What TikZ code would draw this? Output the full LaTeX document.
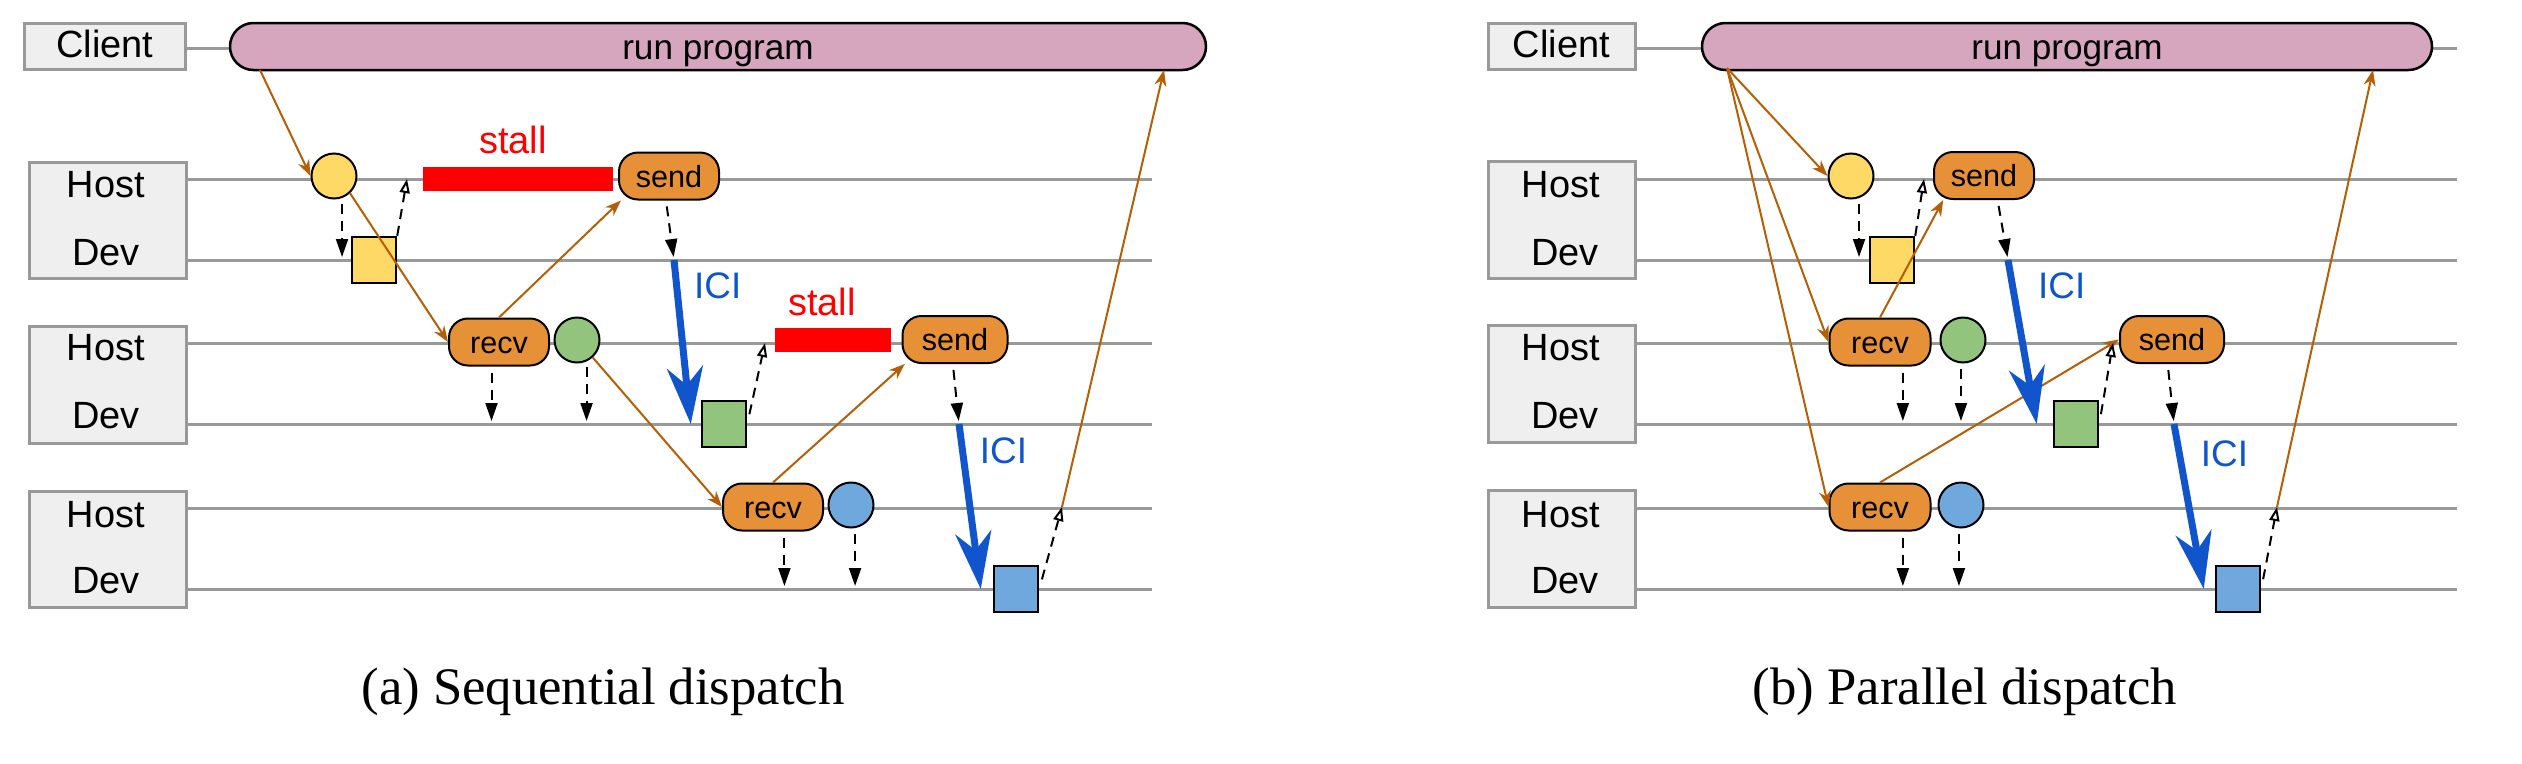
\documentclass[tikz,border=0pt]{standalone}
\usepackage{fontspec}
\setmainfont{Liberation Serif}
\setsansfont{Liberation Sans}
\usetikzlibrary{arrows.meta}
\definecolor{lanegray}{HTML}{999999}
\definecolor{boxgray}{HTML}{EFEFEF}
\definecolor{pillpink}{HTML}{D5A6BD}
\definecolor{oporange}{HTML}{E69138}
\definecolor{opyellow}{HTML}{FFD966}
\definecolor{opgreen}{HTML}{93C47D}
\definecolor{opblue}{HTML}{6FA8DC}
\definecolor{floworange}{HTML}{B45F06}
\definecolor{iciblue}{HTML}{1155CC}
\definecolor{stallred}{HTML}{FF0000}
\tikzset{lane/.style={draw=lanegray,line width=0.3mm}}
\tikzset{lblbox/.style={draw=lanegray,fill=boxgray,line width=0.3mm,inner sep=0,
  font=\sffamily\fontsize{10.8}{13}\selectfont,text height=2.2mm,text depth=0mm}}
\tikzset{lbltxt/.style={font=\sffamily\fontsize{10.8}{13}\selectfont,inner sep=0,anchor=base}}
\tikzset{prog/.style={draw=black,fill=pillpink,line width=0.25mm,rounded corners=2.35mm,
  minimum height=4.7mm,inner sep=0,font=\sffamily\fontsize{10}{12}\selectfont,
  text height=2.5mm,text depth=0mm}}
\tikzset{op/.style={draw=black,fill=oporange,line width=0.2mm,rounded corners=1.9mm,
  minimum width=10mm,minimum height=4.7mm,inner sep=0,
  font=\sffamily\fontsize{8.7}{10}\selectfont,text height=2.2mm,text depth=0mm}}
\tikzset{hostop/.style={circle,draw=black,line width=0.2mm,minimum size=4.5mm,inner sep=0}}
\tikzset{devop/.style={rectangle,draw=black,line width=0.25mm,minimum width=4.4mm,
  minimum height=4.6mm,inner sep=0}}
\tikzset{stallbar/.style={fill=stallred,minimum height=2.4mm,inner sep=0}}
\tikzset{stalltxt/.style={text=stallred,font=\sffamily\fontsize{10.8}{13}\selectfont,
  inner sep=0,anchor=base}}
\tikzset{icitxt/.style={text=iciblue,font=\sffamily\fontsize{10.5}{13}\selectfont,inner sep=0}}
\tikzset{flow/.style={color=floworange,line width=0.2mm,-{Stealth[length=1.6mm,width=1.2mm]}}}
\tikzset{call/.style={line width=0.2mm,dash pattern=on 1mm off 0.7mm,
  shorten <=0.6mm,shorten >=0.3mm,-{Triangle[length=1.8mm,width=1.2mm]}}}
\tikzset{done/.style={line width=0.2mm,dash pattern=on 1mm off 0.7mm,
  shorten <=1mm,-{Triangle[open,length=1.4mm,width=1mm]}}}
\tikzset{ici/.style={color=iciblue,line width=0.7mm,
  -{Stealth[length=5.7mm,width=3.6mm,inset=1.8mm]}}}

\begin{document}
\begin{tikzpicture}[x=0.1mm,y=-0.1mm]
\useasboundingbox (0,0) rectangle (2522,764);
% \draw[help lines,step=100] (0,0) grid (2522,764);
\draw[lane] (186,48) -- (700,48);
\draw[lane] (1635,48) -- (2457,48);
\foreach \y in {179,260,343,424,508,589} {
  \draw[lane] (186,\y) -- (1152,\y);
  \draw[lane] (1635,\y) -- (2457,\y);
}
%
% (a) sequential
\node (cA) [lblbox,minimum width=16.15mm,minimum height=4.6mm] at (105,46) {Client};
\node (hA1) [lblbox,minimum width=15.7mm,minimum height=11.6mm] at (107.5,220) {};
\node (hA1h) [lbltxt] at (106,197) {Host};
\node (hA1d) [lbltxt] at (106,265) {Dev};
\node (hA2) [lblbox,minimum width=15.7mm,minimum height=11.7mm] at (107.5,384.5) {};
\node (hA2h) [lbltxt] at (106,360) {Host};
\node (hA2d) [lbltxt] at (106,428) {Dev};
\node (hA3) [lblbox,minimum width=15.7mm,minimum height=11.6mm] at (107.5,549) {};
\node (hA3h) [lbltxt] at (106,527) {Host};
\node (hA3d) [lbltxt] at (106,593) {Dev};
\node (pA) [prog,minimum width=97.6mm] at (718,46.5) {run program};
%
\node (yA) [hostop,fill=opyellow] at (334,176) {};
\node (ysqA) [devop,fill=opyellow] at (374,260) {};
\node (sA1) [stallbar,minimum width=19mm] at (518,178.5) {};
\node (sA1t) [stalltxt] at (513,153) {stall};
\node (sendA1) [op] at (669,176) {send};
\node (recvA2) [op] at (499,342) {recv};
\node (gA) [hostop,fill=opgreen] at (577,340) {};
\node (gsqA) [devop,fill=opgreen] at (724,424) {};
\node (sA2) [stallbar,minimum width=11.6mm] at (833,340) {};
\node (sA2t) [stalltxt] at (822,315) {stall};
\node (sendA2) [op,minimum width=10.5mm] at (955,339.5) {send};
\node (recvA3) [op] at (773,507) {recv};
\node (bA) [hostop,fill=opblue] at (851,505) {};
\node (bsqA) [devop,fill=opblue] at (1016,589) {};
%
\coordinate (outA) at (260,70);
\coordinate (inA) at (1164,70);
\coordinate (hyA) at (407,179);
\coordinate (hgA) at (765,343);
\coordinate (hbA) at (1062,507);
\coordinate (iA1) at (674,260);
\coordinate (iA2) at (959,424);
%
\path[flow] (outA) edge (yA.west)
  (yA.-47) edge (recvA2.west)
  (recvA2.north) edge (sendA1.-153)
  (gA.-48) edge (recvA3.west)
  (recvA3.north) edge (sendA2.-154)
  (hbA) edge (inA);
\path[call] (yA.-70) edge (yA.-70 |- ysqA)
  (sendA1.-97) edge (iA1)
  (recvA2.-107) edge (recvA2.-107 |- gsqA)
  (gA.-66) edge (gA.-66 |- gsqA)
  (sendA2.-95) edge (iA2)
  (recvA3.-65) edge (recvA3.-65 |- bsqA)
  (bA.-80) edge (bA.-80 |- bsqA);
\path[done] (ysqA.north east) edge[shorten <=0pt] (hyA)
  (gsqA.east) edge (hgA)
  (bsqA.east) edge (hbA);
\path[ici] (iA1) edge node[icitxt,pos=0.16,right=1.4mm] {ICI} ([xshift=-1mm]gsqA.west)
  (iA2) edge node[icitxt,pos=0.16,right=1.4mm] {ICI} ([xshift=-1.2mm]bsqA.west);
%
% (b) parallel
\node (cB) [lblbox,minimum width=14.7mm,minimum height=4.6mm] at (1561.5,46) {Client};
\node (hB1) [lblbox,minimum width=14.7mm,minimum height=11.7mm] at (1561.5,219.5) {};
\node (hB1h) [lbltxt] at (1561,197) {Host};
\node (hB1d) [lbltxt] at (1565,265) {Dev};
\node (hB2) [lblbox,minimum width=14.7mm,minimum height=11.7mm] at (1561.5,384) {};
\node (hB2h) [lbltxt] at (1561,360) {Host};
\node (hB2d) [lbltxt] at (1565,428) {Dev};
\node (hB3) [lblbox,minimum width=14.7mm,minimum height=11.7mm] at (1561.5,548.5) {};
\node (hB3h) [lbltxt] at (1561,527) {Host};
\node (hB3d) [lbltxt] at (1565,593) {Dev};
\node (pB) [prog,minimum width=73mm] at (2067,46.5) {run program};
%
\node (yB) [hostop,fill=opyellow] at (1851,176) {};
\node (ysqB) [devop,fill=opyellow] at (1892,260) {};
\node (sendB1) [op] at (1984,175.5) {send};
\node (recvB2) [op,minimum width=10.1mm] at (1880,342) {recv};
\node (gB) [hostop,fill=opgreen] at (1963,340) {};
\node (gsqB) [devop,fill=opgreen] at (2076,424) {};
\node (sendB2) [op,minimum width=10.4mm] at (2172,339.5) {send};
\node (recvB3) [op,minimum width=10.1mm] at (1880,507) {recv};
\node (bB) [hostop,fill=opblue] at (1961,505) {};
\node (bsqB) [devop,fill=opblue] at (2238,589) {};
%
\coordinate (outB) at (1727,68);
\coordinate (inB) at (2373,70);
\coordinate (hyB) at (1924,179);
\coordinate (hgB) at (2113,343);
\coordinate (hbB) at (2277,507);
\coordinate (iB1) at (2008,260);
\coordinate (iB2) at (2174,424);
%
\path[flow] (outB) edge (yB.west)
  (outB) edge (recvB2.west)
  (outB) edge (recvB3.west)
  (recvB2.north) edge (sendB1.-149)
  (recvB3.north) edge (sendB2.west)
  (hbB) edge (inB);
\path[call] (yB.-70) edge (yB.-70 |- ysqB)
  (sendB1.-61) edge (iB1)
  (recvB2.-47) edge (recvB2.-47 |- gsqB)
  (gB.-95) edge (gB.-95 |- gsqB)
  (sendB2.-100) edge (iB2)
  (recvB3.-47) edge (recvB3.-47 |- bsqB)
  (bB.-95) edge (bB.-95 |- bsqB);
\path[done] (ysqB.north east) edge[shorten <=0pt] (hyB)
  (gsqB.east) edge (hgB)
  (bsqB.east) edge (hbB);
\path[ici] (iB1) edge node[icitxt,pos=0.16,right=2.2mm] {ICI} ([xshift=-1.6mm]gsqB.west)
  (iB2) edge node[icitxt,pos=0.18,right=1.8mm] {ICI} ([xshift=-1.1mm]bsqB.west);
%
\node (capA) [font=\rmfamily\fontsize{15}{18}\selectfont,inner sep=0,anchor=base] at (603,704) {(a) Sequential dispatch};
\node (capB) [font=\rmfamily\fontsize{15}{18}\selectfont,inner sep=0,anchor=base] at (1965,704) {(b) Parallel dispatch};
\end{tikzpicture}
\end{document}
